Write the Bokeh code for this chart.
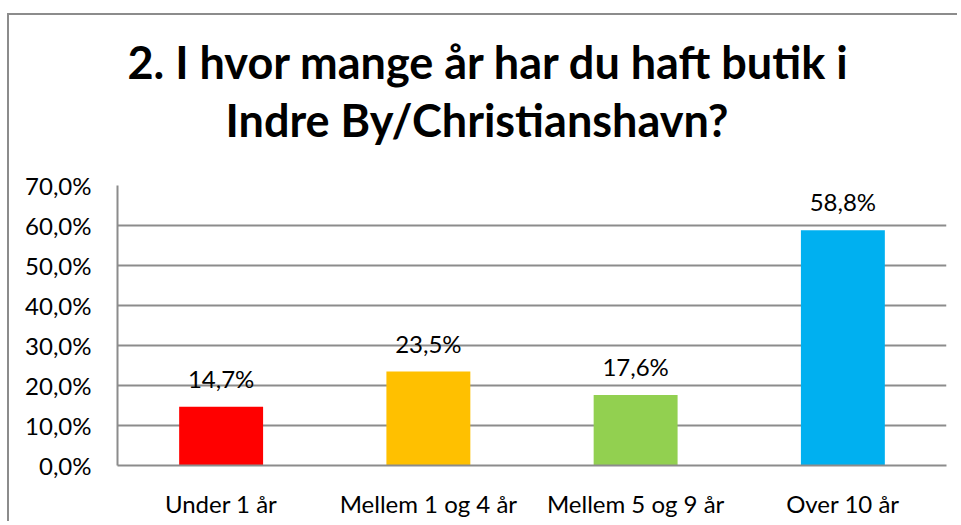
from bokeh.plotting import figure
from bokeh.models import ColumnDataSource, FixedTicker, LabelSet, Range1d, Title
from bokeh.core.properties import value
from bokeh.embed import file_html
from bokeh.resources import INLINE

categories = ["Under 1 år", "Mellem 1 og 4 år", "Mellem 5 og 9 år", "Over 10 år"]
values = [14.7, 23.5, 17.6, 58.8]
value_labels = ["14,7%", "23,5%", "17,6%", "58,8%"]
colors = ["#FF0000", "#FFC000", "#92D050", "#00B0F0"]
y_ticks = [0, 10, 20, 30, 40, 50, 60, 70]
y_tick_labels = ["0,0%", "10,0%", "20,0%", "30,0%", "40,0%", "50,0%", "60,0%", "70,0%"]
title_lines = ["2. I hvor mange år har du haft butik i", "Indre By/Christianshavn?"]

FONT = "Lato"
GRID = "#8c8c8c"
FS = "24px"

xs = [i + 0.5 for i in range(len(categories))]
src = ColumnDataSource(dict(x=xs, top=values, color=colors, label=value_labels))

W, H = 950, 508
p = figure(width=W, height=H, x_range=Range1d(0, len(categories)), y_range=Range1d(0, 70),
           output_backend="svg", toolbar_location=None,
           min_border_left=108, min_border_right=13, min_border_top=170, min_border_bottom=58)
p.margin = (13, 0, 0, 7)
p.styles = {"border-top": "2px solid #8c8c8c", "border-left": "2px solid #8c8c8c"}
p.outline_line_color = None
p.background_fill_color = "white"
p.border_fill_color = "white"

p.vbar(x="x", top="top", width=0.405, bottom=0, fill_color="color", line_color=None, source=src)

labels = LabelSet(x="x", y="top", text="label", source=src, text_align="center",
                  text_baseline="alphabetic", y_offset=19, text_font=value(FONT),
                  text_font_size=FS, text_color="black")
p.add_layout(labels)

# axes
p.yaxis.ticker = FixedTicker(ticks=y_ticks)
p.yaxis.major_label_overrides = {t: l for t, l in zip(y_ticks, y_tick_labels)}
p.yaxis.major_label_text_font = FONT
p.yaxis.major_label_text_font_size = FS
p.yaxis.major_label_text_color = "black"
p.yaxis.major_label_standoff = 26
p.yaxis.major_tick_out = 0
p.yaxis.major_tick_in = 0
p.yaxis.minor_tick_out = 0
p.yaxis.minor_tick_in = 0
p.yaxis.major_tick_line_color = None
p.yaxis.minor_tick_line_color = None
p.yaxis.axis_line_color = GRID
p.yaxis.axis_line_width = 2

p.xaxis.ticker = FixedTicker(ticks=xs)
p.xaxis.major_label_overrides = {x: c for x, c in zip(xs, categories)}
p.xaxis.major_label_text_font = FONT
p.xaxis.major_label_text_font_size = FS
p.xaxis.major_label_text_color = "black"
p.xaxis.major_label_standoff = 23
p.xaxis.major_tick_out = 0
p.xaxis.major_tick_in = 0
p.xaxis.minor_tick_out = 0
p.xaxis.minor_tick_in = 0
p.xaxis.major_tick_line_color = None
p.xaxis.minor_tick_line_color = None
p.xaxis.axis_line_color = GRID
p.xaxis.axis_line_width = 2

p.xgrid.grid_line_color = None
p.ygrid.ticker = FixedTicker(ticks=y_ticks)
p.ygrid.grid_line_color = GRID
p.ygrid.grid_line_width = 2

# title: the first item added to "above" sits closest to the plot frame
p.add_layout(Title(text=" ", text_font_size="1px", standoff=35), "above")  # spacer
title_offsets = [10, 108]
title_standoffs = [1, 2]
for i in (1, 0):
    p.add_layout(Title(text=title_lines[i], align="left", offset=title_offsets[i],
                       text_font=FONT, text_font_style="bold", text_font_size="45px",
                       text_color="black", standoff=title_standoffs[i]), "above")

open("out.html", "w").write(file_html(p, INLINE))
